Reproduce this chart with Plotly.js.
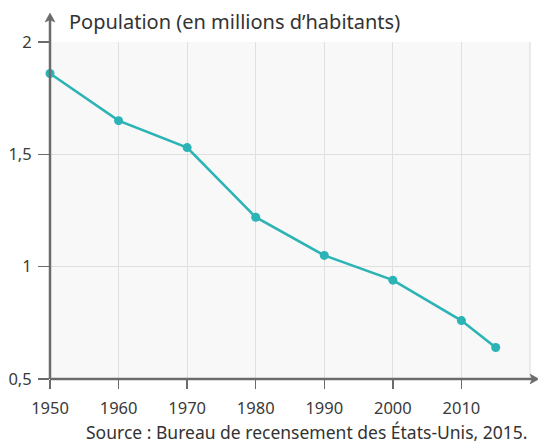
<!DOCTYPE html>
<html><head><meta charset="utf-8">
<script src="https://cdn.plot.ly/plotly-3.0.1.min.js"></script>
<style>html,body{margin:0;padding:0;background:#fff;}#chart{width:538px;height:444px;}</style>
</head><body><div id="chart"></div>
<script>
var years = [1950, 1960, 1970, 1980, 1990, 2000, 2010, 2015];
var population = [1.86, 1.65, 1.53, 1.22, 1.05, 0.94, 0.76, 0.64];
var xTicks = [1950, 1960, 1970, 1980, 1990, 2000, 2010];
var yTicks = [0.5, 1, 1.5, 2];
var yTickText = ['0,5', '1', '1,5', '2'];
var axisTitle = 'Population (en millions d’habitants)';
var sourceText = 'Source : Bureau de recensement des États-Unis, 2015.';

var FONT = 'Noto Sans, sans-serif';
var W = 480, H = 337; // plot area px
var axisCol = '#6b6b6b';
function px(dx){return dx / W;}
function py(dy){return dy / H;}

var trace = {
  x: years, y: population, mode: 'lines+markers', type: 'scatter',
  line: {color: '#2bb3b5', width: 2.6},
  marker: {color: '#2bb3b5', size: 9},
  cliponaxis: false, hoverinfo: 'skip'
};

var layout = {
  width: 538, height: 444,
  margin: {l: 50, r: 8, t: 42, b: 65},
  paper_bgcolor: '#ffffff', plot_bgcolor: '#f8f8f8',
  separators: ', ',
  showlegend: false,
  font: {family: FONT, color: '#3a3a3a', size: 16},
  xaxis: {
    range: [1950, 2020], tickvals: xTicks, ticks: 'outside', ticklen: 9, tickwidth: 1.5, tickcolor: axisCol,
    ticklabelstandoff: 5,
    showgrid: true, gridcolor: '#e0e0e0', gridwidth: 1.2, zeroline: false, showline: false,
    tickfont: {family: FONT, size: 16.5, color: '#3a3a3a'}, fixedrange: true
  },
  yaxis: {
    range: [0.5, 2], tickvals: yTicks, ticktext: yTickText, ticks: 'outside', ticklen: 11, tickwidth: 1.5, tickcolor: axisCol,
    ticklabelstandoff: 3,
    showgrid: true, gridcolor: '#e0e0e0', gridwidth: 1.2, zeroline: false, showline: false,
    tickfont: {family: FONT, size: 16.5, color: '#3a3a3a'}, fixedrange: true
  },
  shapes: [
    {type: 'line', xref: 'paper', yref: 'paper', x0: 1, x1: 1, y0: 0, y1: 1, line: {color: '#e0e0e0', width: 1.2}, layer: 'below'},
    {type: 'line', xref: 'paper', yref: 'paper', x0: 0, x1: 0, y0: 0, y1: 1 + py(29 - 6), line: {color: axisCol, width: 2.5}},
    {type: 'path', xref: 'paper', yref: 'paper', path:
      'M ' + px(-5) + ' ' + (1 + py(20)) + ' L 0 ' + (1 + py(29)) + ' L ' + px(5) + ' ' + (1 + py(20)) + ' L 0 ' + (1 + py(22)) + ' Z',
      fillcolor: axisCol, line: {color: axisCol, width: 0.5}},
    {type: 'line', xref: 'paper', yref: 'paper', x0: 0, x1: 1 + px(4), y0: 0, y1: 0, line: {color: axisCol, width: 2.5}},
    {type: 'path', xref: 'paper', yref: 'paper', path:
      'M ' + (1 + px(0)) + ' ' + py(5) + ' L ' + (1 + px(9)) + ' 0 L ' + (1 + px(0)) + ' ' + py(-5) + ' L ' + (1 + px(2)) + ' 0 Z',
      fillcolor: axisCol, line: {color: axisCol, width: 0.5}}
  ],
  annotations: [
    {text: axisTitle, xref: 'paper', yref: 'paper', x: px(17), y: 1 + py(20), xanchor: 'left', yanchor: 'middle',
      showarrow: false, font: {family: FONT, size: 20, color: '#333'}},
    {text: sourceText, xref: 'paper', yref: 'paper', x: 1 + px(0), y: -py(53), xanchor: 'right', yanchor: 'middle',
      showarrow: false, font: {family: FONT, size: 17.5, color: '#333'}}
  ]
};

Plotly.newPlot('chart', [trace], layout, {staticPlot: true, displayModeBar: false});
</script>
</body></html>
